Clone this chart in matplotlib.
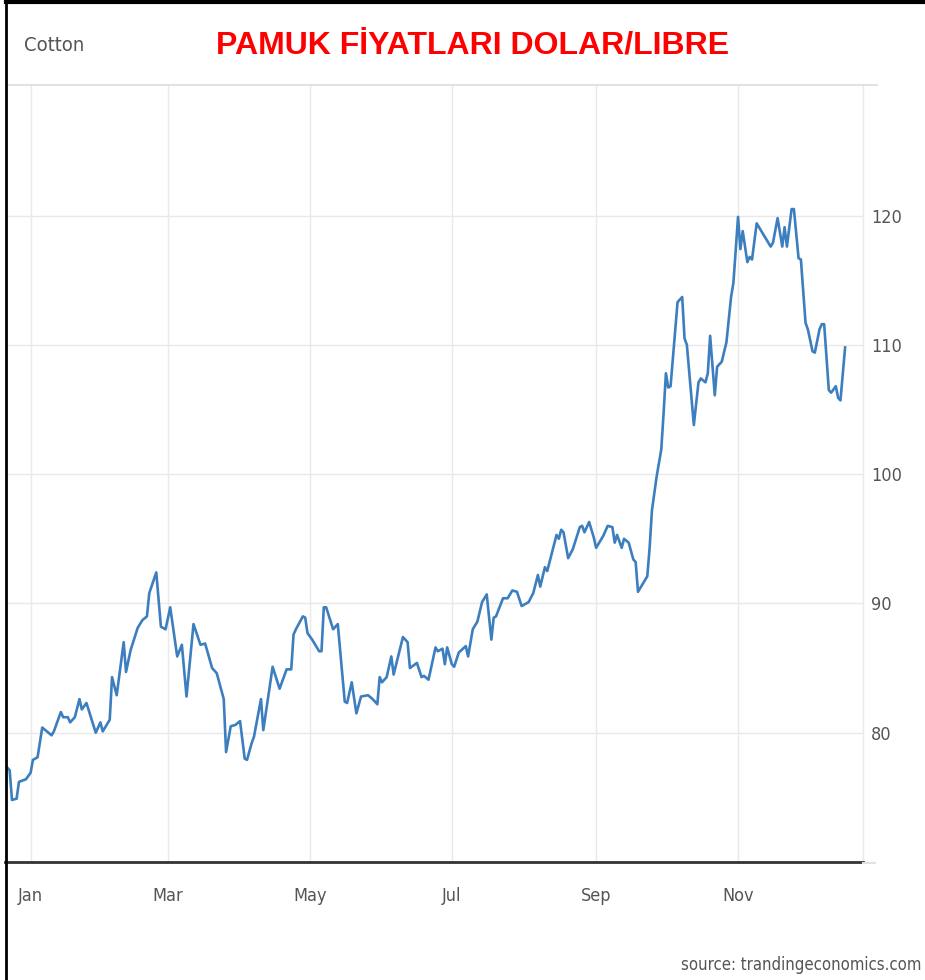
import pandas as pd
import matplotlib
matplotlib.use("Agg")
import matplotlib.pyplot as plt
import matplotlib.dates as mdates
from matplotlib.lines import Line2D

# days counted from 2021-01-01
days = [-10, -9, -8, -6, -5, -2, 0, 1, 3, 5, 9, 10, 13, 14, 16, 17, 19, 21, 22, 24,
        28, 30, 31, 34, 35, 37, 40, 41, 43, 46, 48, 50, 51, 54, 56, 58, 60, 63, 65, 67,
        70, 73, 75, 78, 80, 83, 84, 86, 88, 90, 92, 93, 95, 96, 99, 100, 104, 107, 110, 112,
        113, 114, 117, 118, 119, 121, 124, 125, 126, 127, 130, 132, 135, 136, 138, 140, 142, 145, 147, 149,
        150, 151, 153, 155, 156, 160, 162, 163, 166, 168, 169, 171, 174, 175, 177, 178, 179, 181, 182, 184,
        187, 188, 190, 192, 194, 196, 198, 199, 200, 203, 205, 207, 209, 211, 214, 216, 218, 219, 221, 222,
        226, 227, 228, 229, 231, 233, 236, 237, 238, 240, 242, 243, 246, 248, 250, 251, 252, 254, 255, 257,
        259, 260, 261, 265, 266, 267, 269, 271, 272, 273, 274, 275, 277, 278, 280, 281, 282, 285, 287, 288,
        290, 291, 292, 294, 295, 297, 299, 301, 302, 304, 305, 306, 308, 309, 310, 312, 314, 315, 318, 319,
        321, 323, 324, 325, 327, 328, 330, 331, 333, 334, 336, 337, 339, 340, 341, 343, 344, 346, 347, 348,
        350]

price = [77.3, 77.1, 74.8, 74.9, 76.2, 76.4, 76.9, 77.9, 78.1, 80.4, 79.8, 80.1, 81.6, 81.2, 81.2, 80.8, 81.2, 82.6, 81.8, 82.3,
         80.0, 80.8, 80.1, 81.0, 84.3, 82.9, 87.0, 84.7, 86.4, 88.1, 88.7, 89.0, 90.8, 92.4, 88.2, 88.0, 89.7, 85.9, 86.8, 82.8,
         88.4, 86.8, 86.9, 85.0, 84.6, 82.6, 78.5, 80.5, 80.6, 80.9, 78.0, 77.9, 79.2, 79.7, 82.6, 80.2, 85.1, 83.4, 84.9, 84.9,
         87.6, 88.0, 89.0, 88.9, 87.7, 87.2, 86.3, 86.3, 89.7, 89.7, 88.0, 88.4, 82.4, 82.3, 83.9, 81.5, 82.8, 82.9, 82.6, 82.2,
         84.3, 83.9, 84.3, 85.9, 84.5, 87.4, 87.0, 85.0, 85.4, 84.3, 84.4, 84.1, 86.6, 86.3, 86.5, 85.3, 86.6, 85.3, 85.1, 86.2,
         86.7, 85.9, 88.0, 88.6, 90.1, 90.7, 87.2, 88.9, 89.0, 90.4, 90.4, 91.0, 90.9, 89.8, 90.1, 90.8, 92.2, 91.3, 92.8, 92.5,
         95.3, 95.0, 95.7, 95.5, 93.5, 94.2, 95.9, 96.0, 95.5, 96.3, 95.1, 94.3, 95.2, 96.0, 95.9, 94.7, 95.3, 94.3, 95.0, 94.7,
         93.4, 93.2, 90.9, 92.1, 94.3, 97.2, 99.8, 101.9, 104.7, 107.8, 106.7, 106.8, 111.2, 113.3, 113.7, 110.5, 110.0, 103.8, 107.1, 107.4,
         107.1, 107.8, 110.7, 106.1, 108.3, 108.7, 110.2, 113.7, 114.8, 119.9, 117.4, 118.8, 116.4, 116.8, 116.6, 119.4, 118.8, 118.5, 117.6, 117.9,
         119.8, 117.6, 119.1, 117.6, 120.5, 120.5, 116.7, 116.6, 111.7, 111.2, 109.5, 109.4, 111.2, 111.6, 111.6, 106.5, 106.3, 106.8, 105.9, 105.7,
         109.8]

month_ticks = ["2021-01-01", "2021-03-01", "2021-05-01", "2021-07-01", "2021-09-01", "2021-11-01"]
y_ticks = [80, 90, 100, 110, 120]

dates = pd.Timestamp("2021-01-01") + pd.to_timedelta(days, unit="D")

narrow = dict(family="DejaVu Sans", stretch="condensed")
grid_c = "#e9e9e9"
text_c = "#555555"

fig = plt.figure(figsize=(9.25, 9.8), dpi=100)
ax = fig.add_axes([0.0054, 0.1204, 0.9276, 0.7929])

ax.plot(dates, price, color="#3d7ebf", lw=1.9, solid_joinstyle="round")

ax.set_xlim(pd.Timestamp("2021-01-01") - pd.Timedelta(days=11),
            pd.Timestamp("2021-01-01") + pd.Timedelta(days=357.7))
ax.set_ylim(70, 130.1)

ax.set_xticks(pd.to_datetime(month_ticks))
ax.xaxis.set_major_formatter(mdates.DateFormatter("%b"))
ax.set_yticks(y_ticks)
ax.yaxis.tick_right()
ax.tick_params(axis="both", length=0, colors=text_c, labelsize=13)
ax.tick_params(axis="y", pad=6)
ax.tick_params(axis="x", pad=18)
for lab in ax.get_xticklabels() + ax.get_yticklabels():
    lab.set_fontstretch("condensed")

ax.grid(True, color=grid_c, lw=1.0)
ax.set_axisbelow(True)
for s in ["left", "top"]:
    ax.spines[s].set_visible(False)
ax.spines["right"].set_color(grid_c)
ax.spines["right"].set_linewidth(1.0)
ax.spines["bottom"].set_color("#333333")
ax.spines["bottom"].set_linewidth(2)

# header separator and frame
fig.add_artist(Line2D([0.006, 0.948], [0.913, 0.913], color="#e2e2e2", lw=1.5))
fig.add_artist(Line2D([0.933, 0.946], [0.1194, 0.1194], color="#e2e2e2", lw=1.5))
fig.add_artist(Line2D([0.0065, 0.0065], [0, 0.998], color="black", lw=2))
fig.add_artist(Line2D([0.0065, 1.0], [0.998, 0.998], color="black", lw=3))

fig.text(0.026, 0.954, "Cotton", fontsize=14.5, color=text_c, va="center", ha="left", **narrow)
fig.text(0.511, 0.953, "PAMUK FİYATLARI DOLAR/LIBRE", fontsize=23, color="#ff0000",
         fontweight="bold", family=["Liberation Sans", "DejaVu Sans"], va="center", ha="center")
fig.text(0.996, 0.015, "source: trandingeconomics.com", fontsize=12, color=text_c,
         ha="right", va="center", **narrow)

fig.savefig("out.png", dpi=100)
